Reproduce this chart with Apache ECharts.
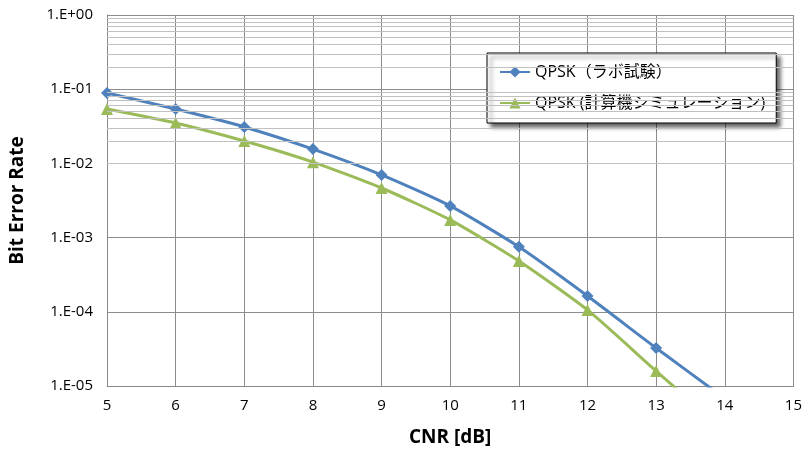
<!DOCTYPE html>
<html>
<head>
<meta charset="utf-8">
<script src="https://cdn.jsdelivr.net/npm/echarts@6/dist/echarts.min.js"></script>
<style>html,body{margin:0;padding:0;background:#fff}#c{width:805px;height:452px}</style>
</head>
<body>
<div id="c"></div>
<script>
const cnr = [5, 6, 7, 8, 9, 10, 11, 12, 13, 14];
const berLab = [8.9e-2, 5.4e-2, 3.1e-2, 1.56e-2, 7.0e-3, 2.67e-3, 7.5e-4, 1.63e-4, 3.25e-5, 6.8e-6];
const berSim = [5.4e-2, 3.5e-2, 2.0e-2, 1.04e-2, 4.66e-3, 1.73e-3, 4.84e-4, 1.06e-4, 1.59e-5, 2.5e-6];
const seriesNames = ['QPSK（ラボ試験）', 'QPSK (計算機シミュレーション)'];
const minorMantissas = [2, 3, 4, 5, 6, 7, 8, 9];
const minorDecades = [-5, -4, -3, -2, -1];

const minorLines = [];
minorDecades.forEach(d => minorMantissas.forEach(m => minorLines.push({ yAxis: m * Math.pow(10, d) })));

const font = '"Open Sans", "Noto Sans CJK JP", sans-serif';
const chart = echarts.init(document.getElementById('c'));
chart.setOption({
  animation: false,
  textStyle: { fontFamily: font },
  grid: { left: 107, right: 10, top: 15, bottom: 66 },
  legend: {
    orient: 'vertical',
    left: 487, top: 53,
    data: seriesNames,
    backgroundColor: '#fff',
    borderColor: '#000',
    borderWidth: 1,
    padding: [11, 11, 12, 12],
    itemGap: 15,
    itemWidth: 30, itemHeight: 14,
    shadowColor: 'rgba(0,0,0,0.6)', shadowBlur: 4, shadowOffsetX: 4, shadowOffsetY: 4,
    textStyle: { fontSize: 16, color: '#000', fontFamily: font }
  },
  xAxis: {
    type: 'value', min: 5, max: 15, interval: 1,
    name: 'CNR [dB]', nameLocation: 'middle', nameGap: 42,
    nameTextStyle: { fontSize: 19, fontWeight: 'bold', color: '#000' },
    axisLine: { show: true, lineStyle: { color: '#888' } },
    axisTick: { show: false },
    axisLabel: { fontSize: 15, color: '#000', margin: 12 },
    splitLine: { show: true, lineStyle: { color: '#8c8c8c', width: 1 } }
  },
  yAxis: {
    type: 'log', logBase: 10, min: 1e-5, max: 1,
    name: 'Bit Error Rate', nameLocation: 'middle', nameGap: 80,
    nameTextStyle: { fontSize: 19, fontWeight: 'bold', color: '#000' },
    axisLine: { show: true, lineStyle: { color: '#888' } },
    axisTick: { show: false },
    axisLabel: {
      fontSize: 15, color: '#000', margin: 14,
      formatter: v => { const e = Math.round(Math.log10(v)); return '1.E' + (e >= 0 ? '+' : '-') + String(Math.abs(e)).padStart(2, '0'); }
    },
    splitLine: { show: true, lineStyle: { color: '#8c8c8c', width: 1 } }
  },
  series: [
    {
      name: 'minor', type: 'line', data: [], z: 1, silent: true,
      markLine: { silent: true, symbol: 'none', label: { show: false }, animation: false,
        lineStyle: { color: '#c0c0c0', width: 1, type: 'solid' }, data: minorLines }
    },
    {
      name: seriesNames[0], type: 'line', z: 3,
      data: cnr.map((x, i) => [x, berLab[i]]),
      smooth: 0.2, clip: true,
      symbol: 'diamond', symbolSize: 12,
      lineStyle: { color: '#4F81BD', width: 3 },
      itemStyle: { color: '#4F81BD' }
    },
    {
      name: seriesNames[1], type: 'line', z: 2,
      data: cnr.map((x, i) => [x, berSim[i]]),
      smooth: 0.2, clip: true,
      symbol: 'triangle', symbolSize: 12,
      lineStyle: { color: '#9BBB59', width: 3 },
      itemStyle: { color: '#9BBB59' }
    }
  ]
});
</script>
</body>
</html>
